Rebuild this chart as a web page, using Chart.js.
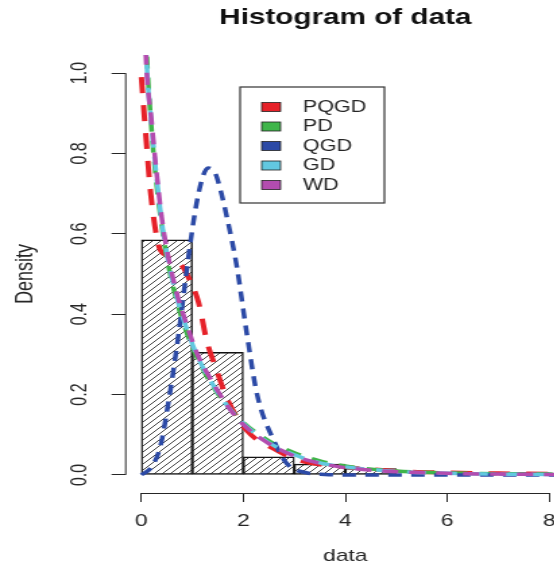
<!DOCTYPE html>
<html>
<head>
<meta charset="utf-8">
<title>Histogram of data</title>
<script src="https://cdn.jsdelivr.net/npm/chart.js@4.4.1/dist/chart.umd.min.js"></script>
<style>
  html, body { margin: 0; padding: 0; background: #fff; overflow: hidden; }
  #wrap { width: 580px; height: 570px; }
</style>
</head>
<body>
<div id="wrap"><canvas id="hist" width="430" height="570" style="width:580px;height:570px"></canvas></div>
<script>
// ── histogram (bins of width 1) ──
const binMids = [0.5, 1.5, 2.5, 3.5, 4.5, 5.5, 6.5, 7.5];
const binDensity = [0.585, 0.305, 0.045, 0.027, 0.016, 0, 0, 0.006];

// ── fitted densities ──
const pqgdX = [0.0, 0.06, 0.11, 0.16, 0.23, 0.34, 0.5, 0.65, 0.8, 0.93, 1.12, 1.29, 1.45, 1.68, 2.07, 2.67, 3.12, 4.0, 5.0, 6.0, 7.0, 8.3];
const pqgdY = [0.99, 0.89, 0.81, 0.73, 0.65, 0.57, 0.545, 0.53, 0.52, 0.49, 0.43, 0.33, 0.27, 0.19, 0.11, 0.06, 0.035, 0.02, 0.01, 0.006, 0.004, 0.003];

const pdX = [0.05, 0.11, 0.2, 0.3, 0.4, 0.5, 0.7, 0.9, 1.1, 1.4, 1.7, 2.0, 2.5, 3.0, 3.5, 4.0, 5.0, 6.0, 7.0, 8.3];
const pdY = [1.25, 1.04, 0.86, 0.72, 0.62, 0.54, 0.43, 0.35, 0.29, 0.22, 0.17, 0.13, 0.085, 0.055, 0.035, 0.022, 0.01, 0.005, 0.003, 0.002];

const qgdX = [0, 0.2, 0.37, 0.53, 0.73, 0.9, 1.06, 1.2, 1.31, 1.45, 1.55, 1.68, 1.87, 2.07, 2.27, 2.6, 2.86, 3.25, 3.6, 4, 5, 6, 7, 8.3];
const qgdY = [0, 0.02, 0.07, 0.18, 0.35, 0.52, 0.66, 0.74, 0.764, 0.75, 0.71, 0.64, 0.52, 0.35, 0.2, 0.085, 0.027, 0.005, 0.001, 0, 0, 0, 0, 0];

const gdX = [0.05, 0.1, 0.2, 0.3, 0.4, 0.5, 0.7, 0.9, 1.1, 1.4, 1.7, 2.0, 2.5, 3.0, 3.5, 4.0, 5.0, 6.0, 7.0, 8.3];
const gdY = [1.25, 1.04, 0.87, 0.74, 0.63, 0.55, 0.44, 0.36, 0.295, 0.225, 0.17, 0.128, 0.08, 0.05, 0.03, 0.02, 0.009, 0.004, 0.002, 0.001];

const wdX = [0.04, 0.09, 0.2, 0.3, 0.4, 0.5, 0.7, 0.9, 1.1, 1.4, 1.7, 2.0, 2.5, 3.0, 3.5, 4.0, 5.0, 6.0, 7.0, 8.3];
const wdY = [1.25, 1.04, 0.88, 0.75, 0.64, 0.56, 0.45, 0.37, 0.30, 0.23, 0.17, 0.125, 0.078, 0.047, 0.029, 0.018, 0.008, 0.004, 0.002, 0.001];

const xTicks = [0, 2, 4, 6, 8];
const yTicks = [0, 0.2, 0.4, 0.6, 0.8, 1.0];

const FONT = "'Liberation Sans', Arial, sans-serif";
const INK = "#262626";

const pts = (xs, ys) => xs.map((x, i) => ({ x, y: ys[i] }));

// diagonal hatching like R's density= shading
function hatch() {
  const c = document.createElement("canvas");
  c.width = 6; c.height = 6;
  const g = c.getContext("2d");
  g.strokeStyle = "#222";
  g.lineWidth = 0.85;
  g.beginPath();
  g.moveTo(-1, 7); g.lineTo(7, -1);
  g.moveTo(-1, 1); g.lineTo(1, -1);
  g.moveTo(5, 7); g.lineTo(7, 5);
  g.stroke();
  return g.createPattern(c, "repeat");
}

function curve(label, xs, ys, color, dash, width, order) {
  return {
    type: "line",
    label,
    data: pts(xs, ys),
    borderColor: color,
    backgroundColor: color,
    borderWidth: width,
    borderDash: dash,
    borderCapStyle: "butt",
    pointRadius: 0,
    fill: false,
    cubicInterpolationMode: "monotone",
    order,
  };
}

// title over the plot region, R style
const titlePlugin = {
  id: "rtitle",
  afterDraw(chart) {
    const ctx = chart.ctx;
    const a = chart.chartArea;
    ctx.save();
    ctx.font = "bold 22px " + FONT;
    ctx.fillStyle = "#111";
    ctx.textAlign = "center";
    ctx.textBaseline = "middle";
    ctx.fillText("Histogram of data", (a.left + a.right) / 2, 18);
    ctx.restore();
  },
};

// detached axis lines spanning first to last tick
const axisPlugin = {
  id: "raxes",
  afterDraw(chart) {
    const ctx = chart.ctx;
    const { x, y } = chart.scales;
    const a = chart.chartArea;
    ctx.save();
    ctx.strokeStyle = INK;
    ctx.lineWidth = 1;
    ctx.beginPath();
    ctx.moveTo(a.left + 0.5, y.getPixelForValue(yTicks[0]));
    ctx.lineTo(a.left + 0.5, y.getPixelForValue(yTicks[yTicks.length - 1]));
    ctx.moveTo(x.getPixelForValue(xTicks[0]), a.bottom + 0.5);
    ctx.lineTo(x.getPixelForValue(xTicks[xTicks.length - 1]), a.bottom + 0.5);
    ctx.stroke();
    ctx.restore();
  },
};

// boxed legend with filled swatches
const legendPlugin = {
  id: "rlegend",
  afterDraw(chart) {
    const ctx = chart.ctx;
    const sets = chart.data.datasets.filter((d) => d.type === "line");
    const left = 178, top = 87, w = 107, h = 116;
    ctx.save();
    ctx.fillStyle = "#fff";
    ctx.fillRect(left, top, w, h);
    ctx.strokeStyle = "#333";
    ctx.lineWidth = 1.2;
    ctx.strokeRect(left, top, w, h);
    ctx.font = "16px " + FONT;
    ctx.textBaseline = "middle";
    ctx.textAlign = "left";
    sets.forEach((d, i) => {
      const cy = 107 + i * 19.5;
      ctx.fillStyle = d.borderColor;
      ctx.fillRect(194, cy - 4.5, 14, 9);
      ctx.strokeStyle = "#222";
      ctx.lineWidth = 0.8;
      ctx.strokeRect(194, cy - 4.5, 14, 9);
      ctx.fillStyle = INK;
      ctx.fillText(d.label, 224.5, cy + 0.5);
    });
    ctx.restore();
  },
};

new Chart(document.getElementById("hist"), {
  data: {
    datasets: [
      curve("PQGD", pqgdX, pqgdY, "#e62129", [16, 12], 4, 5),
      curve("PD", pdX, pdY, "#3fb54a", [12, 9], 3.5, 4),
      curve("QGD", qgdX, qgdY, "#2c4aa6", [10, 7], 3.5, 3),
      curve("GD", gdX, gdY, "#62c8e0", [14, 9], 3.5, 2),
      curve("WD", wdX, wdY, "#b34caf", [12, 8], 3.5, 1),
      {
        type: "bar",
        label: "data",
        data: pts(binMids, binDensity),
        backgroundColor: hatch(),
        borderColor: "#111",
        borderWidth: 0.75,
        borderSkipped: false,
        barPercentage: 1,
        categoryPercentage: 1,
        order: 10,
      },
    ],
  },
  options: {
    responsive: false,
    devicePixelRatio: 1,
    animation: false,
    events: [],
    layout: { padding: { top: 55, left: 0, right: 10.7, bottom: 0 } },
    plugins: {
      legend: { display: false },
      tooltip: { enabled: false },
      title: { display: false },
    },
    scales: {
      x: {
        type: "linear",
        offset: false,
        min: -0.32,
        max: 8.32,
        afterBuildTicks: (s) => { s.ticks = xTicks.map((v) => ({ value: v })); },
        afterFit: (s) => { s.height = 77; },
        border: { display: false },
        grid: { offset: false, drawOnChartArea: false, drawTicks: true, tickLength: 9, color: INK, lineWidth: 1 },
        ticks: {
          autoSkip: false,
          maxRotation: 0,
          padding: 9,
          color: INK,
          font: { family: FONT, size: 17 },
          callback: (v) => String(v),
        },
        title: {
          display: true,
          text: "data",
          color: INK,
          font: { family: FONT, size: 17 },
          padding: { top: 0, bottom: 3 },
        },
      },
      y: {
        type: "linear",
        min: -0.045,
        max: 1.045,
        afterBuildTicks: (s) => { s.ticks = yTicks.map((v) => ({ value: v })); },
        afterFit: (s) => { s.width = 92.7; },
        border: { display: false },
        grid: { drawOnChartArea: false, drawTicks: true, tickLength: 10, color: INK, lineWidth: 1 },
        ticks: {
          autoSkip: false,
          minRotation: 90,
          maxRotation: 90,
          crossAlign: "center",
          padding: 12,
          color: INK,
          font: { family: FONT, size: 16 },
          callback: (v) => v.toFixed(1),
        },
        title: {
          display: true,
          text: "Density",
          color: INK,
          font: { family: FONT, size: 18 },
          padding: { top: 8, bottom: 0 },
        },
      },
    },
  },
  plugins: [axisPlugin, titlePlugin, legendPlugin],
});
</script>
</body>
</html>
